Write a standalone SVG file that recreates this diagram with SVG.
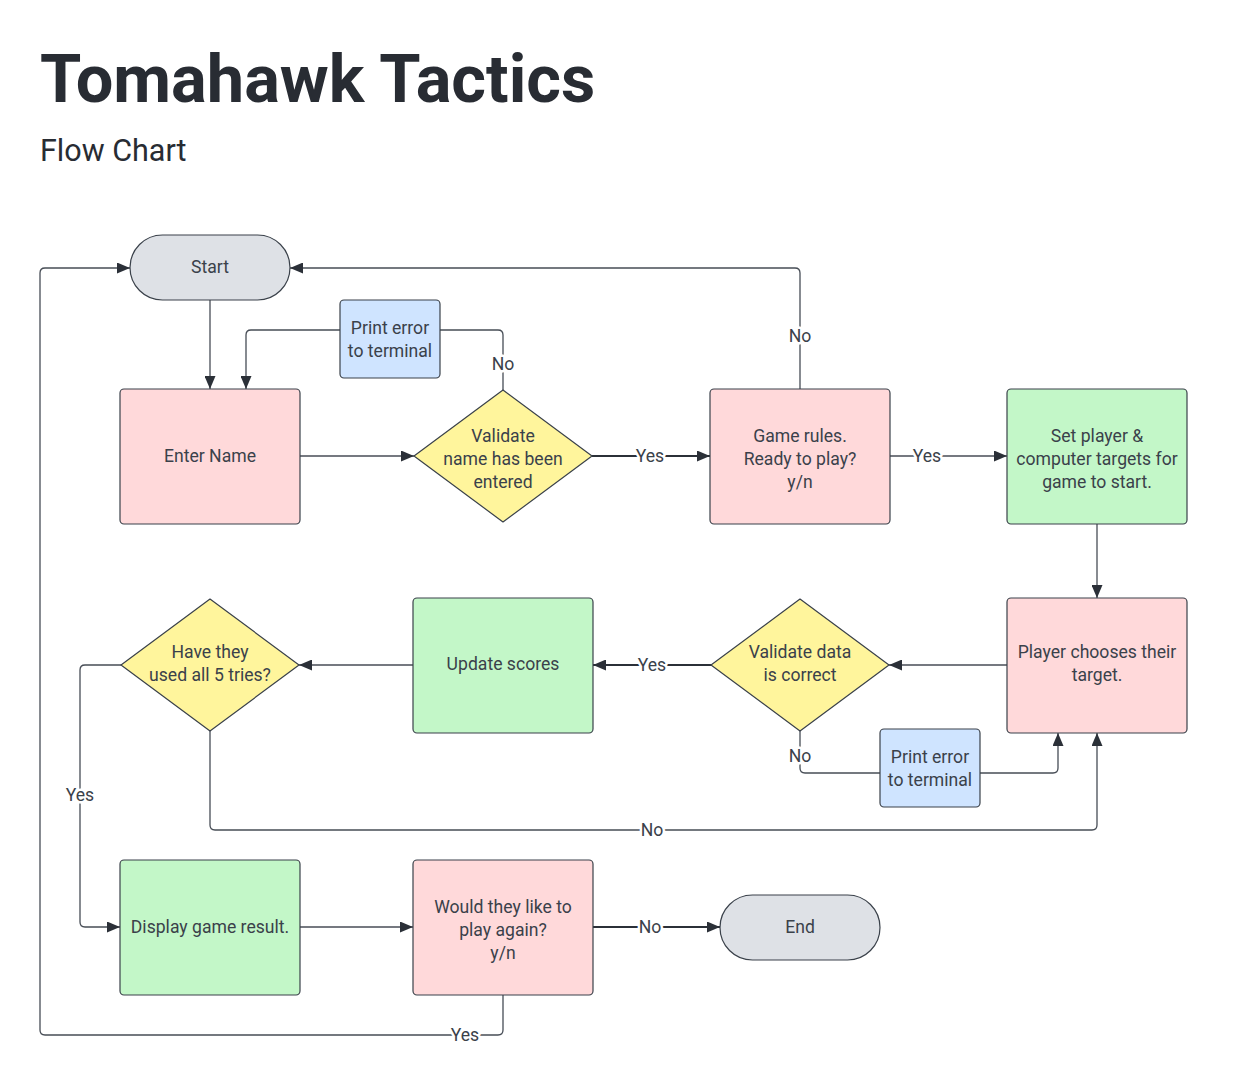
<svg xmlns="http://www.w3.org/2000/svg" width="1243" height="1086" viewBox="0 0 1243 1086">
<style>
  text { font-family: Roboto, "Liberation Sans", sans-serif; fill: #3a414a; }
  .title { font-size: 66.7px; font-weight: 700; fill: #282c33; }
  .sub { font-size: 30.5px; fill: #282c33; }
  .lbl { font-size: 17.6px; text-anchor: middle; }
  .el { font-size: 17.6px; text-anchor: middle; paint-order: stroke; stroke: #ffffff; stroke-width: 5px; stroke-linejoin: round; }
  .shape { stroke: #3a414a; stroke-width: 1.2; }
  .pink { fill: #ffd9da; }
  .green { fill: #c3f7c8; }
  .yellow { fill: #fff59c; }
  .blue { fill: #cfe4ff; }
  .grey { fill: #dee1e6; }
  .conn { fill: none; stroke: #474d56; stroke-width: 1.3; stroke-linejoin: round; }
  .bold { stroke: #2b3038; stroke-width: 2.2; }
</style>
<defs>
  <marker id="arr" viewBox="0 0 13 11" refX="13" refY="5.5" markerWidth="13" markerHeight="11" markerUnits="userSpaceOnUse" orient="auto">
    <path d="M0,0 L13,5.5 L0,11 Z" fill="#2b3038"/>
  </marker>
</defs>
<rect width="1243" height="1086" fill="#ffffff"/>
<text class="title" x="40" y="102">Tomahawk Tactics</text>
<text class="sub" x="40" y="161">Flow Chart</text>

<g id="connectors">
  <path class="conn" d="M210,300 L210,389" marker-end="url(#arr)"/>
  <path class="conn" d="M300,456 L414,456" marker-end="url(#arr)"/>
  <path class="conn" d="M503,390 L503,335 Q503,330 498,330 L251,330 Q246,330 246,335 L246,389" marker-end="url(#arr)"/>
  <path class="conn bold" d="M592,456 L710,456" marker-end="url(#arr)"/>
  <path class="conn" d="M800,389 L800,273 Q800,268 795,268 L290,268" marker-end="url(#arr)"/>
  <path class="conn" d="M890,456 L1007,456" marker-end="url(#arr)"/>
  <path class="conn" d="M1097,524 L1097,598" marker-end="url(#arr)"/>
  <path class="conn" d="M1007,665 L889,665" marker-end="url(#arr)"/>
  <path class="conn bold" d="M711,665 L593,665" marker-end="url(#arr)"/>
  <path class="conn" d="M413,665 L299,665" marker-end="url(#arr)"/>
  <path class="conn" d="M800,731 L800,768 Q800,773 805,773 L1053,773 Q1058,773 1058,768 L1058,733" marker-end="url(#arr)"/>
  <path class="conn" d="M210,731 L210,825 Q210,830 215,830 L1092,830 Q1097,830 1097,825 L1097,733" marker-end="url(#arr)"/>
  <path class="conn" d="M121,665 L85,665 Q80,665 80,670 L80,922 Q80,927 85,927 L120,927" marker-end="url(#arr)"/>
  <path class="conn" d="M300,927 L413,927" marker-end="url(#arr)"/>
  <path class="conn bold" d="M593,927 L720,927" marker-end="url(#arr)"/>
  <path class="conn" d="M503,995 L503,1030 Q503,1035 498,1035 L45,1035 Q40,1035 40,1030 L40,273 Q40,268 45,268 L130,268" marker-end="url(#arr)"/>
  <text class="el" x="503" y="370">No</text>
  <text class="el" x="650" y="462">Yes</text>
  <text class="el" x="800" y="342">No</text>
  <text class="el" x="927" y="462">Yes</text>
  <text class="el" x="652" y="671">Yes</text>
  <text class="el" x="800" y="762">No</text>
  <text class="el" x="652" y="836">No</text>
  <text class="el" x="80" y="801">Yes</text>
  <text class="el" x="650" y="933">No</text>
  <text class="el" x="465" y="1041">Yes</text>
</g>

<g id="start">
  <rect class="shape grey" x="130" y="235" width="160" height="65" rx="32.5"/>
  <text class="lbl" x="210" y="273">Start</text>
</g>
<g id="enter-name">
  <rect class="shape pink" x="120" y="389" width="180" height="135" rx="4"/>
  <text class="lbl" x="210" y="462">Enter Name</text>
</g>
<g id="print-error-1">
  <rect class="shape blue" x="340" y="300" width="100" height="78" rx="4"/>
  <text class="lbl" x="390" y="334">Print error</text>
  <text class="lbl" x="390" y="357">to terminal</text>
</g>
<g id="validate-name">
  <path class="shape yellow" d="M503,390 L592,456 L503,522 L414,456 Z" stroke-linejoin="round"/>
  <text class="lbl" x="503" y="442">Validate</text>
  <text class="lbl" x="503" y="465">name has been</text>
  <text class="lbl" x="503" y="488">entered</text>
</g>
<g id="game-rules">
  <rect class="shape pink" x="710" y="389" width="180" height="135" rx="4"/>
  <text class="lbl" x="800" y="442">Game rules.</text>
  <text class="lbl" x="800" y="465">Ready to play?</text>
  <text class="lbl" x="800" y="488">y/n</text>
</g>
<g id="set-player">
  <rect class="shape green" x="1007" y="389" width="180" height="135" rx="4"/>
  <text class="lbl" x="1097" y="442">Set player &amp;</text>
  <text class="lbl" x="1097" y="465">computer targets for</text>
  <text class="lbl" x="1097" y="488">game to start.</text>
</g>
<g id="player-chooses">
  <rect class="shape pink" x="1007" y="598" width="180" height="135" rx="4"/>
  <text class="lbl" x="1097" y="658">Player chooses their</text>
  <text class="lbl" x="1097" y="681">target.</text>
</g>
<g id="validate-data">
  <path class="shape yellow" d="M800,599 L889,665 L800,731 L711,665 Z" stroke-linejoin="round"/>
  <text class="lbl" x="800" y="658">Validate data</text>
  <text class="lbl" x="800" y="681">is correct</text>
</g>
<g id="print-error-2">
  <rect class="shape blue" x="880" y="729" width="100" height="78" rx="4"/>
  <text class="lbl" x="930" y="763">Print error</text>
  <text class="lbl" x="930" y="786">to terminal</text>
</g>
<g id="update-scores">
  <rect class="shape green" x="413" y="598" width="180" height="135" rx="4"/>
  <text class="lbl" x="503" y="670">Update scores</text>
</g>
<g id="used-tries">
  <path class="shape yellow" d="M210,599 L299,665 L210,731 L121,665 Z" stroke-linejoin="round"/>
  <text class="lbl" x="210" y="658">Have they</text>
  <text class="lbl" x="210" y="681">used all 5 tries?</text>
</g>
<g id="display-result">
  <rect class="shape green" x="120" y="860" width="180" height="135" rx="4"/>
  <text class="lbl" x="210" y="933">Display game result.</text>
</g>
<g id="play-again">
  <rect class="shape pink" x="413" y="860" width="180" height="135" rx="4"/>
  <text class="lbl" x="503" y="913">Would they like to</text>
  <text class="lbl" x="503" y="936">play again?</text>
  <text class="lbl" x="503" y="959">y/n</text>
</g>
<g id="end">
  <rect class="shape grey" x="720" y="895" width="160" height="65" rx="32.5"/>
  <text class="lbl" x="800" y="933">End</text>
</g>
</svg>
